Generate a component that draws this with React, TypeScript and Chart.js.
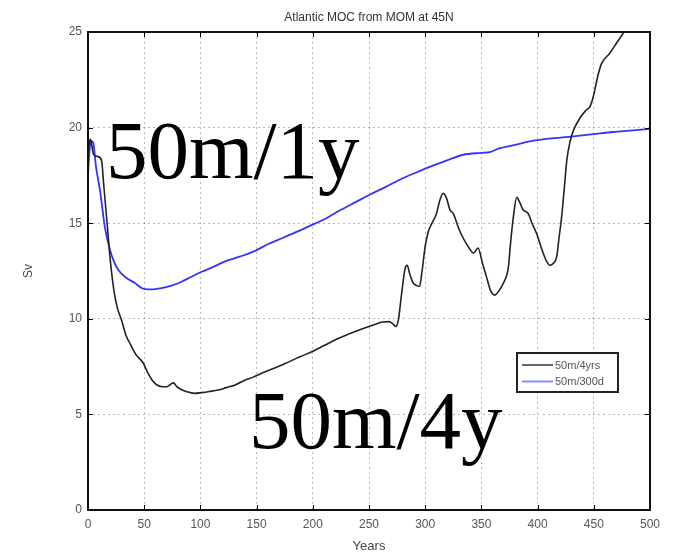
import React, { useEffect, useRef } from "react";
import { Chart, registerables } from "chart.js";

Chart.register(...registerables);

const TITLE = "Atlantic MOC from MOM at 45N";
const X_LABEL = "Years";
const Y_LABEL = "Sv";
const LABEL_4Y = "50m/4yrs";
const LABEL_300D = "50m/300d";
const NOTE_1Y = "50m/1y";
const NOTE_4Y = "50m/4y";

const xTicks = [0, 50, 100, 150, 200, 250, 300, 350, 400, 450, 500];
const yTicks = [0, 5, 10, 15, 20, 25];

const years4y = [
  0, 2, 5, 8, 12, 14, 17, 19.6, 23, 26, 30, 34, 37.4, 43, 49, 53, 57, 61, 66, 70,
  73, 76, 79, 83, 88, 95, 101, 108, 116, 123, 131, 140, 147, 154.5, 165, 175, 188, 200, 210, 221,
  232, 243, 255, 262, 268, 271, 274, 276, 279, 282, 284, 286, 289, 292, 295, 297, 300, 303, 306, 310,
  313, 316, 319, 322, 325, 330, 334, 338, 343, 347, 351, 355, 358, 362, 366, 369.5, 374, 376, 378.4, 381.4,
  384, 387, 391.7, 395, 399, 405, 408, 411, 414, 417, 419, 421.4, 424, 426, 429, 432, 437.7, 443, 446.6, 449,
  451, 454, 457, 464, 470, 476, 482,
];
const sv4y = [
  18.6, 19.4, 18.6, 18.5, 18.3, 17.0, 15.0, 13.2, 11.5, 10.6, 9.9, 9.1, 8.7, 8.1, 7.7, 7.2, 6.8, 6.55, 6.45, 6.45,
  6.55, 6.65, 6.45, 6.3, 6.18, 6.1, 6.14, 6.2, 6.28, 6.4, 6.54, 6.8, 6.95, 7.15, 7.4, 7.65, 8.0, 8.3, 8.6, 8.93,
  9.2, 9.45, 9.7, 9.83, 9.85, 9.75, 9.6, 9.9, 11.3, 12.6, 12.8, 12.4, 11.9, 11.75, 11.7, 12.4, 13.8, 14.6, 15.0, 15.5,
  16.2, 16.56, 16.3, 15.7, 15.5, 14.7, 14.2, 13.8, 13.44, 13.7, 12.9, 12.1, 11.5, 11.24, 11.5, 11.86, 12.7, 14.0, 15.3, 16.35,
  16.1, 15.7, 15.5, 15.0, 14.47, 13.43, 13.0, 12.8, 12.9, 13.25, 14.2, 15.34, 17.0, 18.3, 19.3, 19.87, 20.5, 20.9, 21.1, 21.5,
  22.0, 22.8, 23.36, 23.88, 24.4, 24.93, 25.6,
];

const years300d = [
  0, 1, 2.5, 4.7, 7, 10.7, 15, 19.6, 23, 27, 34, 41.8, 48, 53.7, 60, 65.5, 75, 83.3, 92, 101,
  111, 122, 135, 148.6, 160, 170, 182.7, 197, 212, 225, 238, 251, 265, 280, 298, 304, 320, 334, 350, 357.6,
  365, 380, 393, 410, 431.8, 450, 467, 485, 500,
];
const sv300d = [
  17.5, 18.5, 19.3, 19.2, 18.0, 16.7, 14.8, 13.6, 13.0, 12.55, 12.15, 11.87, 11.6, 11.54, 11.55, 11.6, 11.75, 11.94, 12.2, 12.46,
  12.7, 13.0, 13.25, 13.55, 13.9, 14.15, 14.47, 14.85, 15.26, 15.7, 16.1, 16.5, 16.9, 17.35, 17.8, 17.95, 18.3, 18.58, 18.68, 18.72,
  18.9, 19.1, 19.28, 19.42, 19.54, 19.66, 19.77, 19.85, 19.93,
];

const COLOR_4Y = "#222222";
const COLOR_300D = "rgb(52,52,250)";
const FONT = "'Liberation Sans', Arial, Helvetica, sans-serif";

const framePlugin = {
  id: "matlabFrame",
  afterDraw(chart: any) {
    const { ctx, chartArea } = chart;
    const { left, right, top, bottom } = chartArea;
    ctx.save();
    // inner tick marks
    ctx.strokeStyle = "#000";
    ctx.lineWidth = 1;
    const xs = chart.scales.x;
    const ys = chart.scales.y;
    xTicks.forEach((v) => {
      const px = Math.round(xs.getPixelForValue(v)) + 0.5;
      ctx.beginPath();
      ctx.moveTo(px, bottom);
      ctx.lineTo(px, bottom - 5);
      ctx.moveTo(px, top);
      ctx.lineTo(px, top + 5);
      ctx.stroke();
    });
    yTicks.forEach((v) => {
      const py = Math.round(ys.getPixelForValue(v)) + 0.5;
      ctx.beginPath();
      ctx.moveTo(left, py);
      ctx.lineTo(left + 5, py);
      ctx.moveTo(right, py);
      ctx.lineTo(right - 5, py);
      ctx.stroke();
    });
    // box
    ctx.lineWidth = 2;
    ctx.strokeStyle = "#111";
    ctx.strokeRect(left, top, right - left, bottom - top);

    // legend box
    const lx = right - 133;
    const ly = top + 321;
    const lw = 101;
    const lh = 39;
    ctx.fillStyle = "#fff";
    ctx.fillRect(lx, ly, lw, lh);
    ctx.lineWidth = 2;
    ctx.strokeStyle = "#222";
    ctx.strokeRect(lx, ly, lw, lh);
    chart.data.datasets.forEach((ds: any, i: number) => {
      const yy = ly + 12 + i * 16.5;
      ctx.beginPath();
      ctx.lineWidth = 2;
      ctx.strokeStyle = i === 0 ? "#666" : "#8a8aff";
      ctx.moveTo(lx + 5, yy);
      ctx.lineTo(lx + 36, yy);
      ctx.stroke();
      ctx.fillStyle = "#555";
      ctx.font = `11px ${FONT}`;
      ctx.textBaseline = "middle";
      ctx.textAlign = "left";
      ctx.fillText(ds.label, lx + 38, yy + 0.5);
    });
    ctx.restore();
  },
};

export default function App() {
  const canvasRef = useRef<HTMLCanvasElement | null>(null);

  useEffect(() => {
    if (!canvasRef.current) return;
    const chart = new Chart(canvasRef.current, {
      type: "line",
      data: {
        datasets: [
          {
            label: LABEL_4Y,
            data: years4y.map((x, i) => ({ x, y: sv4y[i] })),
            borderColor: COLOR_4Y,
            borderWidth: 1.6,
            pointRadius: 0,
            cubicInterpolationMode: "monotone",
            fill: false,
          },
          {
            label: LABEL_300D,
            data: years300d.map((x, i) => ({ x, y: sv300d[i] })),
            borderColor: COLOR_300D,
            borderWidth: 1.8,
            pointRadius: 0,
            cubicInterpolationMode: "monotone",
            fill: false,
          },
        ],
      },
      options: {
        responsive: false,
        animation: false,
        layout: { padding: { left: 0, right: 30, top: 0, bottom: 0 } },
        plugins: {
          legend: { display: false },
          tooltip: { enabled: false },
          title: {
            display: true,
            text: TITLE,
            fullSize: false,
            color: "#333",
            font: { family: FONT, size: 12, weight: "normal" },
            padding: { top: 10, bottom: 7.6 },
          },
        },
        scales: {
          x: {
            type: "linear",
            min: 0,
            max: 500,
            afterFit: (s: any) => {
              s.height = 48;
            },
            afterBuildTicks: (s: any) => {
              s.ticks = xTicks.map((value) => ({ value }));
            },
            ticks: {
              color: "#555",
              font: { family: FONT, size: 12 },
              padding: 7,
              maxRotation: 0,
              autoSkip: false,
            },
            grid: { color: "rgba(0,0,0,0.28)", drawTicks: false, lineWidth: 1 },
            border: { display: false, dash: [2, 3] },
            title: {
              display: true,
              text: X_LABEL,
              color: "#444",
              font: { family: FONT, size: 13 },
              padding: { top: 0, bottom: 4 },
            },
          },
          y: {
            type: "linear",
            min: 0,
            max: 25,
            afterFit: (s: any) => {
              s.width = 88;
            },
            afterBuildTicks: (s: any) => {
              s.ticks = yTicks.map((value) => ({ value }));
            },
            ticks: {
              color: "#555",
              font: { family: FONT, size: 12 },
              padding: 6,
              autoSkip: false,
            },
            grid: { color: "rgba(0,0,0,0.28)", drawTicks: false, lineWidth: 1 },
            border: { display: false, dash: [2, 3] },
            title: {
              display: true,
              text: Y_LABEL,
              color: "#444",
              font: { family: FONT, size: 12 },
              padding: { top: 21, bottom: 0 },
            },
          },
        },
      },
      plugins: [framePlugin],
    } as any);
    return () => chart.destroy();
  }, []);

  const noteStyle: React.CSSProperties = {
    position: "absolute",
    fontFamily: "'Liberation Serif', 'Times New Roman', serif",
    fontSize: 83,
    lineHeight: "83px",
    color: "#000",
    whiteSpace: "nowrap",
    pointerEvents: "none",
  };

  return (
    <div style={{ position: "absolute", left: 0, top: 0, width: 680, height: 558, background: "#fff" }}>
      <canvas ref={canvasRef} width={680} height={558} style={{ display: "block" }} />
      <div style={{ ...noteStyle, left: 106, top: 109 }}>{NOTE_1Y}</div>
      <div style={{ ...noteStyle, left: 249, top: 379 }}>{NOTE_4Y}</div>
    </div>
  );
}
